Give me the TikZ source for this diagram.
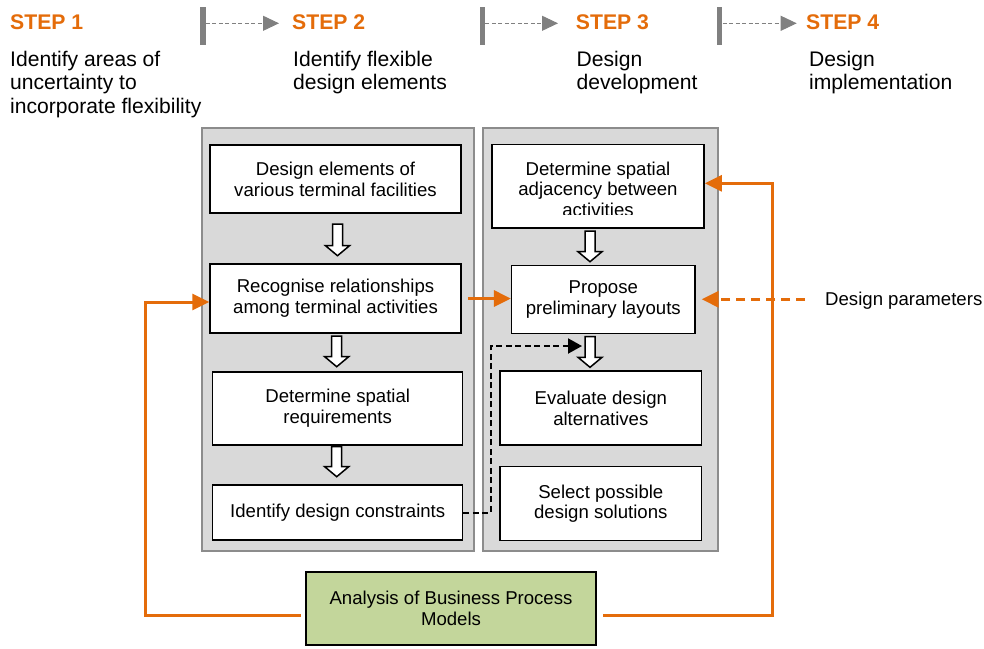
\documentclass[tikz,border=0pt]{standalone}
\usepackage{fontspec}
\setmainfont{Liberation Sans}
\usetikzlibrary{arrows.meta}
\definecolor{orng}{HTML}{E46C0A}
\definecolor{panelfill}{HTML}{D9D9D9}
\definecolor{panelline}{HTML}{8C8C8C}
\definecolor{stepgray}{HTML}{808080}
\definecolor{greenfill}{HTML}{C3D69B}
\newcommand\harr[3]{\draw[hollowarr] ({#1-5},#2) -- ({#1+5},#2) -- ({#1+5},{#3-10}) -- ({#1+12},{#3-10}) -- (#1,#3) -- ({#1-12},{#3-10}) -- ({#1-5},{#3-10}) -- cycle;}
\begin{document}
\begin{tikzpicture}[x=1pt,y=-1pt,
 boxtxt/.style={font=\fontsize{18.6}{20.8}\selectfont},
 box/.style={boxtxt, draw=black, line width=1.5pt, fill=white, inner sep=0pt, align=center},
 panel/.style={draw=panelline, fill=panelfill, line width=2pt, inner sep=0pt},
 desc/.style={font=\fontsize{21.1}{23.4}\selectfont, align=left, anchor=north west, inner sep=0pt},
 steplbl/.style={font=\fontsize{21.2}{24}\selectfont\bfseries, text=orng, anchor=base west, inner sep=0pt},
 stepbar/.style={fill=stepgray, draw=none, minimum width=5.5pt, minimum height=38.5pt, inner sep=0pt},
 garrow/.style={stepgray, line width=1pt, dash pattern=on 4pt off 2.5pt, -{Triangle[length=16pt,width=15pt]}},
 oline/.style={orng, line width=3pt},
 oarrow/.style={oline, -{Triangle[length=17pt,width=16pt]}},
 odash/.style={oarrow, dash pattern=on 9pt off 6pt},
 kdash/.style={black, line width=2pt, dash pattern=on 6pt off 3.5pt, -{Triangle[length=14pt,width=15pt]}},
 hollowarr/.style={draw=black, fill=white, line width=1.5pt, line join=miter}]
\useasboundingbox (0,0) rectangle (984,648);

% step header
\node[steplbl] (s1) at (10,29.3) {STEP 1};
\node[steplbl] (s2) at (292,29.3) {STEP 2};
\node[steplbl] (s3) at (575.7,29.3) {STEP 3};
\node[steplbl] (s4) at (806,29.3) {STEP 4};
\node[stepbar] (bar1) at (203,25.8) {};
\node[stepbar] (bar2) at (482.3,25.8) {};
\node[stepbar] (bar3) at (719.7,25.8) {};
\coordinate (t2) at (279,23.3);
\coordinate (t3) at (558,23.3);
\coordinate (t4) at (796.7,23.3);
\draw[garrow] (bar1.east |- t2) -- (t2);
\draw[garrow] (bar2.east |- t3) -- (t3);
\draw[garrow] (bar3.east |- t4) -- (t4);

\node[desc] (d1) at (10,51) {Identify areas of\\uncertainty to\\incorporate flexibility};
\node[desc] (d2) at (293,51) {Identify flexible\\design elements};
\node[desc] (d3) at (576.5,51) {Design\\development};
\node[desc] (d4) at (809,51) {Design\\implementation};

% panels
\node[panel, minimum width=272.3pt, minimum height=423.3pt] (lpan) at (337.85,339.35) {};
\node[panel, minimum width=235pt, minimum height=423.3pt] (rpan) at (600.8,339.35) {};

% left boxes
\node[box, minimum width=251pt, minimum height=68pt] (b1) at (335.5,179) {Design elements of\\various terminal facilities};
\node[box, minimum width=251pt, minimum height=69pt] (b2) at (335.5,298.5) {Recognise relationships\\among terminal activities};
\node[box, minimum width=250pt, minimum height=73pt] (b3) at (337.7,408.3) {Determine spatial\\requirements};
\node[box, minimum width=250pt, minimum height=55pt] (b4) at (337.7,512.5) {Identify design constraints};

% right boxes
\node[box, minimum width=212pt, minimum height=83.5pt] (r1) at (598,186.2) {};
\begin{scope}
\clip (493,146) rectangle (703,214.5);
\node[boxtxt, align=center, anchor=north, inner sep=0pt] (r1t) at (598,161.5) {Determine spatial\\adjacency between\\activities};
\end{scope}
\node[box, minimum width=183.3pt, minimum height=67.6pt] (r2) at (603.3,299.5) {Propose\\preliminary layouts};
\node[box, minimum width=201.7pt, minimum height=74pt] (r3) at (600.8,408) {Evaluate design\\alternatives};
\node[box, minimum width=201.7pt, minimum height=74pt] (r4) at (600.8,503.7) {Select possible\\design solutions};

% hollow arrows
\harr{337.5}{224}{255.7}
\harr{336.7}{336}{366.7}
\harr{336.7}{446.7}{476.7}
\harr{590}{231}{261.7}
\harr{590}{336.7}{367.3}

% green box
\node[box, fill=greenfill, line width=2pt, minimum width=290pt, minimum height=73pt] (g) at (451,608.5) {Analysis of Business Process\\Models};

% design parameters
\node[boxtxt, anchor=base west, inner sep=0pt] (dp) at (825,305) {Design parameters};

% orange connectors
\draw[oarrow, shorten <=6pt] (b2.east) -- (b2.east -| r2.west);
\coordinate (gla) at ([xshift=-4pt,yshift=-6.5pt]g.west);
\coordinate (glb) at (145,302);
\draw[oarrow] (gla) -| (glb) -- (glb -| b2.west);
\coordinate (gra) at ([xshift=6pt,yshift=-6.5pt]g.east);
\coordinate (grb) at (772.7,183.3);
\draw[oarrow] (gra) -| (grb) -- (grb -| r1.east);
\coordinate (dps) at (805,299.3);
\draw[odash, shorten >=6pt] (dps) -- (dps -| r2.east);

% black dashed connector
\coordinate (kc) at (491,346);
\coordinate (kt) at (582,346);
\draw[kdash] (b4.east) -| (kc) -- (kt);
\end{tikzpicture}
\end{document}
